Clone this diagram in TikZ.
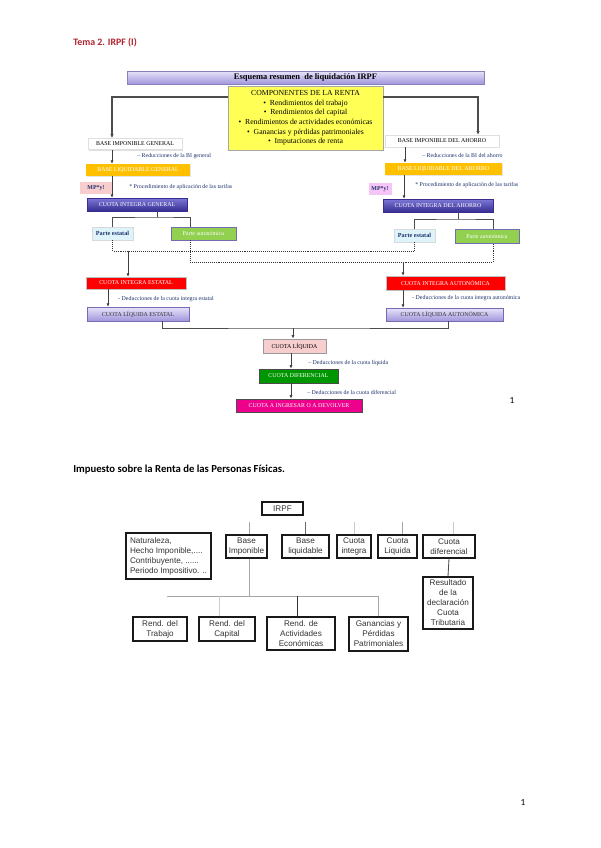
\documentclass[tikz,border=0pt]{standalone}
\usepackage{fontspec}
\setmainfont{Liberation Serif}
\newfontfamily\calibri{Carlito}
\newfontfamily\arialf{Liberation Sans}
\usetikzlibrary{arrows.meta,shadows}
\definecolor{temared}{RGB}{176,36,48}
\definecolor{notecol}{RGB}{30,50,110}
\definecolor{liqorange}{RGB}{255,192,0}
\definecolor{lavtop}{RGB}{232,228,250}
\definecolor{lavbot}{RGB}{160,150,220}
\definecolor{indtop}{RGB}{125,120,215}
\definecolor{indbot}{RGB}{55,45,145}
\definecolor{estcyan}{RGB}{222,244,250}
\definecolor{autgreen}{RGB}{146,208,80}
\definecolor{mppink}{RGB}{248,205,205}
\definecolor{mpviolet}{RGB}{246,196,246}
\definecolor{difgreen}{RGB}{0,150,0}
\begin{document}
\begin{tikzpicture}[x=0.025cm,y=-0.025cm,
	sz/.style 2 args={minimum width=#1*0.025cm, minimum height=#2*0.025cm, inner sep=0pt},
	capbox/.style={font=\fontsize{4.2}{5}\selectfont, align=center},
	basebox/.style={capbox, fill=white, draw=gray!25, drop shadow={opacity=0.25, shadow xshift=0.7pt, shadow yshift=-0.7pt}},
	liqbox/.style={capbox, fill=liqorange, text=white, drop shadow={opacity=0.2, shadow xshift=0.7pt, shadow yshift=-0.7pt}},
	intbox/.style={capbox, top color=indtop, bottom color=indbot, draw=indbot, text=white},
	mpbox/.style={font=\bfseries\fontsize{4.2}{5}\selectfont, text=notecol},
	estbox/.style={font=\bfseries\fontsize{4.4}{5}\selectfont, fill=estcyan, draw=gray!30, text=notecol},
	autbox/.style={capbox, fill=autgreen, text=white, draw=indbot!70, line width=0.4pt},
	redbox/.style={capbox, fill=red, draw=gray!50, text=white},
	lqbox/.style={capbox, top color=lavtop, bottom color=lavbot, draw=indbot!70, text=black!80},
	note/.style={font=\fontsize{4.2}{5}\selectfont, text=notecol, anchor=west, inner sep=0pt},
	feed/.style={draw=black!75, line width=0.5pt, -{Latex[length=2.4pt,width=2.2pt]}},
	thick feed/.style={draw=black!70, line width=0.9pt, -{Latex[length=2.6pt,width=2.6pt]}},
	plain/.style={draw=black!70, line width=0.5pt},
	dotline/.style={draw=black!80, line width=0.4pt, densely dotted},
	tbox/.style={draw=black!90, line width=0.8pt, font=\arialf\fontsize{5.8}{7.1}\selectfont, align=center, text=black!80},
	tline/.style={draw=gray!70, line width=0.6pt}]
	\useasboundingbox[fill=white] (0,0) rectangle (600,848);

	\node[anchor=west, inner sep=0pt, font=\calibri\bfseries\fontsize{7}{8}\selectfont, text=temared] (tema) at (73,43) {Tema 2. IRPF (I)};

	\node[sz={357}{13}, top color=lavtop, bottom color=lavbot, draw=indbot!60, font=\bfseries\fontsize{6}{7}\selectfont] (head) at (305.5,77.5) {Esquema resumen \ de liquidación IRPF};
	\node[sz={155}{64}, fill={rgb,255:red,255;green,255;blue,85}, draw=gray!70, font=\fontsize{5.5}{6.9}\selectfont, align=center] (comp) at (305.5,118) {COMPONENTES DE LA RENTA\\ \textbullet\ \ Rendimientos del trabajo\\ \textbullet\ \ Rendimientos del capital\\ \textbullet\ \ Rendimientos de actividades económicas\\ \textbullet\ \ Ganancias y pérdidas patrimoniales\\ \textbullet\ \ Imputaciones de renta};

	\node[basebox, sz={94}{11.5}] (big) at (135,144) {BASE IMPONIBLE GENERAL};
	\node[liqbox, sz={104}{12}] (blg) at (138,170) {BASE LIQUIDABLE GENERAL};
	\node[mpbox, fill=mppink, sz={32}{12}] (mpg) at (96,188) {MP*y!};
	\node[intbox, sz={100}{13}] (cig) at (137,204.5) {CUOTA INTEGRA GENERAL};
	\node[estbox, sz={41}{13}] (pes) at (112.5,233.5) {Parte estatal};
	\node[autbox, sz={65}{13}] (pau) at (203.5,233.5) {Parte autonómica};

	\node[basebox, sz={114}{12}] (bia) at (442,141) {BASE IMPONIBLE DEL AHORRO};
	\node[liqbox, sz={117}{12}] (bla) at (443.5,169) {BASE LIQUIDABLE DEL AHORRO};
	\node[mpbox, fill=mpviolet, sz={23}{12}] (mpa) at (380,189) {MP*y!};
	\node[intbox, sz={110}{13}] (cia) at (438,205.5) {CUOTA INTEGRA DEL AHORRO};
	\node[estbox, sz={41}{13}] (pes2) at (414.5,235.5) {Parte estatal};
	\node[autbox, sz={64}{14}] (pau2) at (487,236) {Parte autonómica};

	\node[note] (redg) at (137,156) {-- Reducciones de la BI general};
	\node[note] (reda) at (422,155) {-- Reducciones de la BI del ahorro};
	\node[note] (procg) at (129,187) {* Procedimiento de aplicación de las tarifas};
	\node[note] (proca) at (415,185) {* Procedimiento de aplicación de las tarifas};

	\node[redbox, sz={100}{12}] (cie) at (136,283) {CUOTA INTEGRA ESTATAL};
	\node[redbox, sz={119}{14}] (cau) at (445.5,283) {CUOTA INTEGRA AUTONÓMICA};
	\node[note] (dede) at (118,299) {- Deducciones de la cuota íntegra estatal};
	\node[note] (deda) at (412,298) {- Deducciones de la cuota íntegra autonómica};
	\node[lqbox, sz={102}{14}] (cle) at (138,314) {CUOTA LÍQUIDA ESTATAL};
	\node[lqbox, sz={117}{13}] (cla) at (444.5,314.5) {CUOTA LÍQUIDA AUTONÓMICA};

	\node[capbox, fill=mppink, draw=gray!80, line width=0.6pt, sz={63}{14}] (cl) at (294.5,346) {CUOTA LÍQUIDA};
	\node[note] (dedl) at (308,363) {-- Deducciones de la cuota líquida};
	\node[capbox, fill=difgreen, draw=black!70, line width=0.6pt, text=white, sz={79}{14}] (cd) at (298.5,376) {CUOTA DIFERENCIAL};
	\node[note] (dedd) at (307,392) {-- Deducciones de la cuota diferencial};
	\node[capbox, fill=magenta, draw=black!70, line width=0.6pt, text=white, sz={126}{13}] (cai) at (299,405.5) {CUOTA A INGRESAR O A DEVOLVER};
	\node[font=\calibri\fontsize{6.6}{8}\selectfont, inner sep=0pt] (pag1) at (512,401) {1};

	\draw[thick feed] (comp.west |- 0,97) -| (big.north -| 112,0);
	\draw[thick feed] (comp.east |- 0,97) -| (bia.north -| 478,0);
	\draw[feed] (big.south -| 112,0) -- (blg.north -| 112,0);
	\draw[feed] (blg.south -| 112,0) -- (cig.north -| 112,0);
	\draw[feed] (bia.south -| 405,0) -- (bla.north -| 405,0);
	\draw[feed] (bla.south -| 404,0) -- (cia.north -| 404,0);

	\coordinate (cigj) at (157,217);
	\coordinate (ciaj) at (458,219);
	\draw[plain] (cig.south -| cigj) -- (cigj);
	\draw[plain] (pes.north) |- (cigj) -| (pau.north -| 190,0);
	\draw[plain] (cia.south -| ciaj) -- (ciaj);
	\draw[plain] (pes2.north) |- (ciaj) -| (pau2.north -| 493,0);

	\coordinate (dotA) at (414.5,251);
	\coordinate (dotB) at (493,262);
	\coordinate (sumE) at (128,251);
	\coordinate (sumA) at (403,262);
	\draw[dotline] (pes.south) |- (dotA) -- (pes2.south);
	\draw[dotline] (pau.south -| 190,0) |- (dotB) -- (pau2.south -| dotB);
	\draw[feed] (sumE) -- (cie.north -| sumE);
	\draw[feed] (sumA) -- (cau.north -| sumA);
	\draw[feed] (cie.south -| 108,0) -- (cle.north -| 108,0);
	\draw[feed] (cau.south -| 403,0) -- (cla.north -| 403,0);

	\coordinate (liqj) at (293,328);
	\draw[plain] (cle.south -| 162,0) |- (liqj) -| (cla.south -| 448,0);
	\draw[feed] (liqj) -- (cl.north -| liqj);
	\draw[feed] (cl.south -| 291,0) -- (cd.north -| 291,0);
	\draw[feed] (cd.south -| 291,0) -- (cai.north -| 291,0);

	\node[anchor=west, inner sep=0pt, font=\calibri\bfseries\fontsize{7.6}{9}\selectfont] (impuesto) at (73,470) {Impuesto sobre la Renta de las Personas Físicas.};

	\node[tbox, sz={41}{13}] (irpf) at (282.5,508.5) {IRPF};
	\node[tbox, sz={85}{46}, align=left] (natur) at (168.5,556) {Naturaleza,\\Hecho Imponible,....\\Contribuyente, ......\\Periodo Impositivo. ..};
	\node[tbox, sz={41}{23}] (bimp) at (246.5,546.5) {Base\\Imponible};
	\node[tbox, sz={47}{23}] (bliq) at (305.5,546.5) {Base\\liquidable};
	\node[tbox, sz={34}{23}] (cint) at (354,546.5) {Cuota\\integra};
	\node[tbox, sz={39}{23}] (cliq) at (397.5,546.5) {Cuota\\Liquida};
	\node[tbox, sz={52}{23}] (cdif) at (449,546.5) {Cuota\\diferencial};
	\node[tbox, sz={50}{52}] (resul) at (448,603) {Resultado\\de la\\declaración\\Cuota\\Tributaria};
	\node[tbox, sz={54}{24}] (rtra) at (160,629) {Rend. del\\Trabajo};
	\node[tbox, sz={56}{24}] (rcap) at (227,629) {Rend. del\\Capital};
	\node[tbox, sz={68}{33}] (ract) at (301,633.5) {Rend. de\\Actividades\\Económicas};
	\node[tbox, sz={59}{34}] (rgan) at (378.5,634) {Ganancias y\\Pérdidas\\Patrimoniales};
	\node[font=\calibri\fontsize{6.6}{8}\selectfont, inner sep=0pt] (pag2) at (523,803) {1};

	\draw[tline] (bimp.north -| 249,0) -- ++(0,-12);
	\draw[tline, draw=black!60] (bliq.north) -- ++(0,-12);
	\draw[tline, draw=gray!40] (cint.north) -- ++(0,-12);
	\draw[tline] (cliq.north -| 402,0) -- ++(0,-12);
	\draw[tline, draw=gray!40] (cdif.north -| 453,0) -- ++(0,-12);
	\draw[tline, draw=black!70] (cdif.south) -- (resul.north);

	\coordinate (bimpj) at (249,596);
	\coordinate (hleft) at (167,596);
	\draw[tline] (bimp.south -| bimpj) -- (bimpj);
	\draw[tline] (hleft) -- (rgan.north |- hleft) -- (rgan.north);
	\draw[tline, draw=gray!40] (rcap.north -| 219,0) -- (219,596);
	\draw[tline, draw=black!80] (ract.north -| 297,0) -- (297,596);
\end{tikzpicture}
\end{document}
